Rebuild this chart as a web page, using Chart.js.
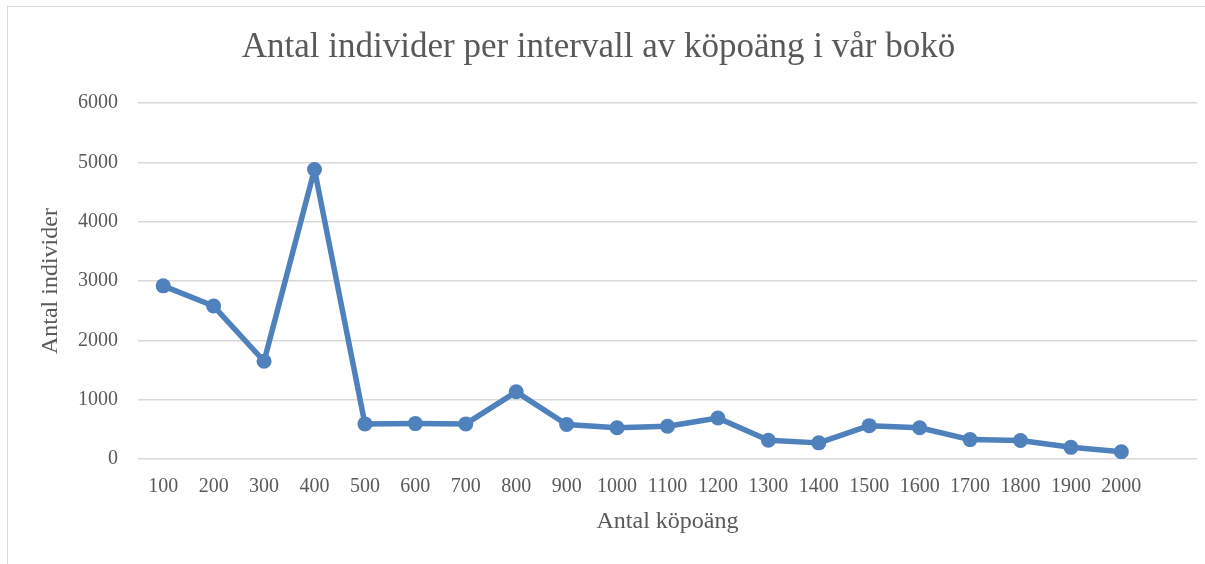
<!DOCTYPE html>
<html>
<head>
<meta charset="utf-8">
<script src="https://cdn.jsdelivr.net/npm/chart.js@4"></script>
<style>
  html, body { margin: 0; padding: 0; background: #fff; overflow: hidden; }
  #frame { position: absolute; left: 7px; top: 6px; width: 1210px; height: 570px; border: 1px solid #d9d9d9; }
  #wrap { position: absolute; left: 0; top: 0; width: 1205px; height: 564px; }
</style>
</head>
<body>
<div id="frame"></div>
<div id="wrap"><canvas id="chart"></canvas></div>
<script>
// köpoäng-intervall (sista kategorin är tom, som i originalet)
var labels = ['100', '200', '300', '400', '500', '600', '700', '800', '900', '1000',
              '1100', '1200', '1300', '1400', '1500', '1600', '1700', '1800', '1900', '2000', ''];
var individer = [2920, 2580, 1650, 4880, 595, 600, 595, 1135, 585, 530,
                 555, 695, 320, 275, 565, 530, 330, 315, 200, 125, null];
var yTicks = [0, 1000, 2000, 3000, 4000, 5000, 6000];

var textColor = '#595959';
var serif = '"Liberation Serif", "DejaVu Serif", serif';

var ctx = document.getElementById('chart');

var lineChart = new Chart(ctx, {
  type: 'line',
  data: {
    labels: labels,
    datasets: [{
      label: 'Antal individer',
      data: individer,
      borderColor: '#4f81bd',
      backgroundColor: '#4f81bd',
      borderWidth: 5.5,
      borderJoinStyle: 'round',
      pointRadius: 7.5,
      pointHoverRadius: 7.5,
      pointBorderWidth: 0,
      tension: 0
    }]
  },
  options: {
    responsive: true,
    maintainAspectRatio: false,
    animation: false,
    layout: { padding: { left: 0, right: 8, top: 0, bottom: 28 } },
    plugins: {
      legend: { display: false },
      tooltip: { enabled: false },
      title: {
        display: true,
        text: 'Antal individer per intervall av köpoäng i vår bokö',
        color: textColor,
        font: { family: serif, size: 35, weight: 'normal' },
        padding: { top: 27, bottom: 34 }
      }
    },
    scales: {
      x: {
        offset: true,
        grid: { display: false },
        border: { display: false },
        ticks: {
          color: textColor,
          font: { family: serif, size: 20 },
          padding: 8,
          autoSkip: false,
          maxRotation: 0
        },
        title: {
          display: true,
          text: 'Antal köpoäng',
          color: textColor,
          font: { family: serif, size: 24 },
          padding: { top: 0, bottom: 0 }
        }
      },
      y: {
        min: 0,
        max: 6000,
        afterFit: function(scale) { scale.width = 138; },
        afterBuildTicks: function(scale) {
          scale.ticks = yTicks.map(function(v) { return { value: v }; });
        },
        grid: { color: '#d9d9d9', lineWidth: 1.5, drawTicks: false },
        border: { display: false },
        ticks: {
          color: textColor,
          font: { family: serif, size: 20 },
          padding: 20,
          callback: function(v) { return String(v); }
        },
        title: {
          display: true,
          text: 'Antal individer',
          color: textColor,
          font: { family: serif, size: 24 },
          padding: { top: 36, bottom: 0 }
        }
      }
    }
  }
});
</script>
</body>
</html>
